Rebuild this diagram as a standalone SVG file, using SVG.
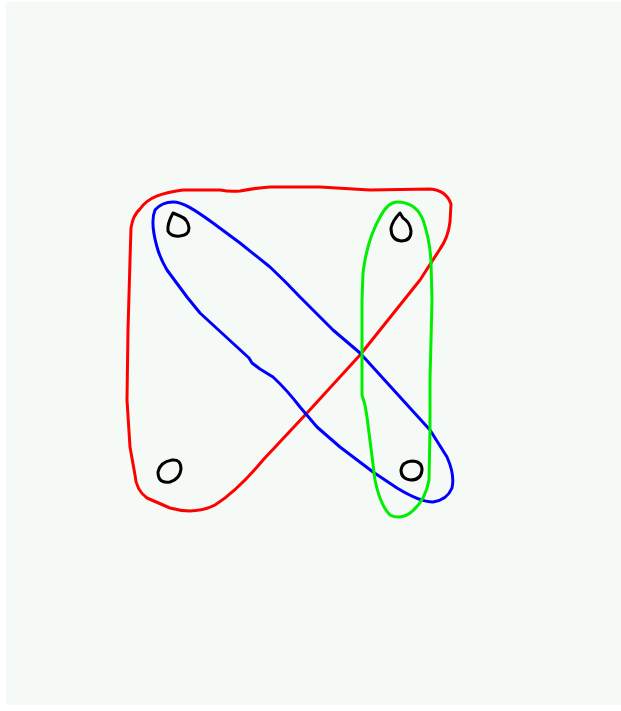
<svg xmlns="http://www.w3.org/2000/svg" width="621" height="711" viewBox="0 0 621 711">
<style>
.edge{fill:none;stroke-width:3;stroke-linejoin:round;stroke-linecap:round}
.node{fill:none;stroke:#000;stroke-width:3;stroke-linejoin:round}
</style>
<rect x="0" y="0" width="621" height="711" fill="#ffffff"/>
<rect x="6" y="2" width="615" height="703" fill="#f6faf6"/>
<g id="connectors">
<path id="red" class="edge" stroke="#ff0000" d="M140,209 C148,197 162,193 183,190 L220,190 Q230,192 240,191 Q255,188 270,187 L320,187 L370,190 L430,189 Q446,190 451,204 L450,222 Q448,238 440,249 L420,280 L360,355 L307,413 L263,460 Q238,490 215,505 Q195,515 170,508 L147,498 Q136,490 135,475 L130,447 L127,400 L128,330 L130,260 L131,228 Q133,215 140,209 Z"/>
<path id="blue" class="edge" stroke="#0000ff" d="M173,202 C183,202 195,210 213,223 L240,243 L270,267 Q285,281 300,297 L333,330 L360,353 L400,397 L430,430 L447,457 Q455,475 452,488 Q447,500 433,502 Q420,502 397,488 L373,472 L340,447 L317,427 L300,407 Q287,390 273,377 L260,369 L252,363 L249,358 L200,313 L187,297 L167,270 Q160,258 157,247 Q150,222 155,210 Q162,202 173,202 Z"/>
<path id="green" class="edge" stroke="#00ee00" d="M397,202 Q416,202 423,220 Q430,240 431,262 L432,300 L430,380 L430,430 L429,480 Q425,502 410,513 Q400,520 390,515 Q380,505 375,480 L367,417 L365,405 L362,395 L362,300 L363,273 Q367,240 380,217 Q388,202 397,202 Z"/>
</g>
<g id="n1"><path class="node" d="M173,213 Q167,224 168,231 Q171,237 180,236 Q189,235 189,228 Q188,219 180,216 Z"/></g>
<g id="n2"><path class="node" d="M400,213 Q393,220 391,228 Q391,240 401,241 Q411,241 411,231 Q410,222 403,218 Z"/></g>
<g id="n3"><path class="node" d="M158,472 Q160,462 172,460 Q181,459 181,469 Q180,479 170,482 Q158,484 158,472 Z"/></g>
<g id="n4"><path class="node" d="M401,470 Q402,462 412,461 Q422,461 422,470 Q421,480 411,480 Q401,479 401,470 Z"/></g>
</svg>
